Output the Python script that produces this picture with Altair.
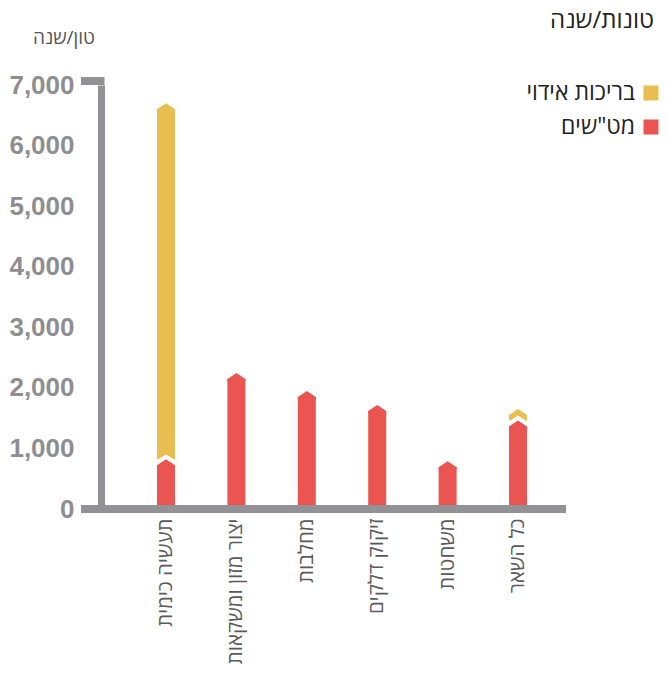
import altair as alt
import pandas as pd

# ---- data ----
categories = ["תעשיה כימית", "יצור מזון ומשקאות", "מחלבות", "זיקוק דלקים", "משחטות", "כל השאר"]
wastewater = [820, 2245, 1950, 1715, 790, 1460]      # מט"שים
ponds = [5880, 0, 0, 0, 0, 190]                       # בריכות אידוי
series = ["בריכות אידוי", 'מט"שים']
series_colors = ["#E8BE50", "#EA5552"]
y_ticks = [0, 1000, 2000, 3000, 4000, 5000, 6000, 7000]
y_unit = "טון/שנה"
chart_title = "טונות/שנה"

df = pd.DataFrame({"cat": categories, "red": wastewater, "yellow": ponds})
df["total"] = df["red"] + df["yellow"]

W, H = 465, 424
BAR = 18
GRAY = "#929296"
HEB_FONT = "Open Sans, DejaVu Sans, sans-serif"
NUM_FONT = "Liberation Sans, Arial, sans-serif"
CAP = "M-1,0.9L-1,0.667L0,0L1,0.667L1,0.9Z"
WHITE_CAP = "M-1,1.6L-1,0.667L0,0L1,0.667L1,1.6Z"

x_axis = alt.Axis(title=None, labelAngle=270, labelFont=HEB_FONT, labelFontSize=20.5,
                  labelColor="#5a5a5a", labelPadding=9, domain=False, ticks=False, labelLimit=300)
y_axis = alt.Axis(title=None, values=y_ticks, format=",d", grid=False, ticks=False,
                  domain=True, domainWidth=7, domainColor=GRAY, labelFont=NUM_FONT,
                  labelFontSize=26, labelFontWeight="bold", labelColor="#8E8E92", labelPadding=27)


def X():
    return alt.X("cat:N", sort=categories,
                 scale=alt.Scale(paddingInner=0, paddingOuter=0.3025, align=0.7), axis=x_axis)


def Y(field):
    return alt.Y(f"{field}:Q", scale=alt.Scale(domain=[0, 7000], nice=False), axis=y_axis)


base = alt.Chart(df)
yel = base.transform_filter("datum.yellow > 0")

yellow_rect = yel.mark_bar(width=BAR, yOffset=6, color=series_colors[0]).encode(
    x=X(), y=Y("total"), y2="red:Q")
yellow_cap = yel.mark_point(shape=CAP, size=BAR * BAR, filled=True, opacity=1,
                            strokeWidth=0, color=series_colors[0]).encode(x=X(), y=Y("total"))
white_cap = yel.mark_point(shape=WHITE_CAP, size=BAR * BAR, filled=True, opacity=1,
                           strokeWidth=0, color="white", yOffset=-5).encode(x=X(), y=Y("red"))
red_rect = base.mark_bar(width=BAR, yOffset=6, color=series_colors[1]).encode(
    x=X(), y=Y("red"), y2=alt.Y2(datum=0))
red_cap = base.mark_point(shape=CAP, size=BAR * BAR, filled=True, opacity=1,
                          strokeWidth=0, color=series_colors[1]).encode(x=X(), y=Y("red"))

one = pd.DataFrame({"k": [0]})
x_line = alt.Chart(one).mark_rule(color=GRAY, strokeWidth=8).encode(
    x=alt.value(-20), x2=alt.value(W), y=alt.value(H))
top_tick = alt.Chart(one).mark_rule(color=GRAY, strokeWidth=8).encode(
    x=alt.value(-20), x2=alt.value(3.5), y=alt.value(-4))

unit_text = alt.Chart(pd.DataFrame({"t": [y_unit]})).mark_text(
    font=HEB_FONT, fontSize=19, color="#555555", align="center", baseline="middle").encode(
    text="t:N", x=alt.value(-37), y=alt.value(-47))
title_text = alt.Chart(pd.DataFrame({"t": [chart_title]})).mark_text(
    font=HEB_FONT, fontSize=24, color="#222222", align="right", baseline="middle").encode(
    text="t:N", x=alt.value(W + 88), y=alt.value(-64))

legend_layers = []
for i, (name, col) in enumerate(zip(series, series_colors)):
    d = pd.DataFrame({"t": [name]})
    legend_layers.append(alt.Chart(d).mark_square(size=225, color=col, opacity=1, filled=True).encode(
        x=alt.value(W + 85), y=alt.value(8 + 34 * i)))
    legend_layers.append(alt.Chart(d).mark_text(
        font=HEB_FONT, fontSize=23, color="#222222", align="right", baseline="middle").encode(
        text="t:N", x=alt.value(W + 69), y=alt.value(8 + 34 * i)))

chart = alt.layer(
    yellow_rect, yellow_cap, white_cap, red_rect, red_cap, x_line, top_tick,
    unit_text, title_text, *legend_layers
).properties(
    width=W, height=H, background="white",
    padding={"left": 0, "top": 1, "right": 0, "bottom": 0}
).configure_view(stroke=None)

chart.save("out.html", embed_options={"renderer": "svg", "actions": False})
